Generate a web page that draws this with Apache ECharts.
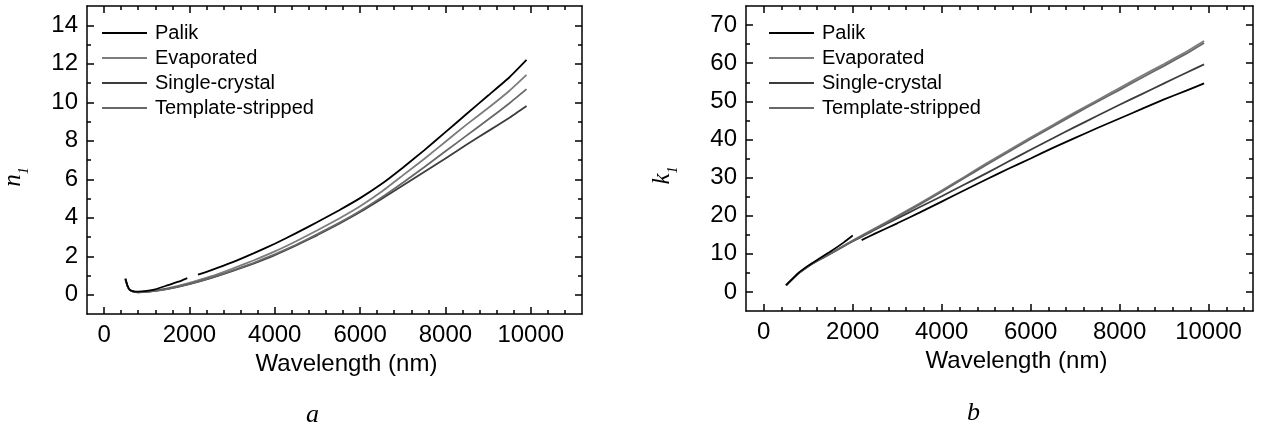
<!DOCTYPE html>
<html>
<head>
<meta charset="utf-8">
<script src="https://cdn.jsdelivr.net/npm/echarts@6/dist/echarts.min.js"></script>
<style>
  html, body { margin: 0; padding: 0; background: #fff; }
  #chart { width: 1264px; height: 432px; }
</style>
</head>
<body>
<div id="chart"></div>
<script>
// ---- data ----
const seriesNames = ['Palik', 'Evaporated', 'Single-crystal', 'Template-stripped'];

// wavelength grid (nm) shared by the three measured films
const wavelengths = [500, 550, 600, 700, 800, 1000, 1200, 1500, 2000, 2500, 3000, 3500, 4000,
  4500, 5000, 5500, 6000, 6500, 7000, 7500, 8000, 8500, 9000, 9500, 9900];

// Palik tabulation comes in two pieces with a gap near 2 µm
const palikWavelengthsN = [500, 550, 600, 700, 800, 1000, 1200, 1500, 1800, 1950, 2050, 2200, 2500,
  3000, 3500, 4000, 4500, 5000, 5500, 6000, 6500, 7000, 7500, 8000, 8500, 9000, 9500, 9900];
const palikN = [0.85, 0.47, 0.27, 0.17, 0.16, 0.2, 0.28, 0.5, 0.72, 0.86, null, 1.05, 1.27,
  1.68, 2.15, 2.65, 3.2, 3.78, 4.38, 5.02, 5.75, 6.6, 7.5, 8.45, 9.4, 10.35, 11.3, 12.2];

const evaporatedN = [0.82, 0.45, 0.26, 0.16, 0.14, 0.16, 0.22, 0.34, 0.62, 0.95, 1.35, 1.78, 2.25,
  2.78, 3.35, 3.95, 4.6, 5.35, 6.2, 7.05, 7.95, 8.85, 9.7, 10.6, 11.42];
const singleCrystalN = [0.8, 0.44, 0.25, 0.15, 0.13, 0.15, 0.2, 0.3, 0.55, 0.86, 1.22, 1.62, 2.06,
  2.56, 3.1, 3.68, 4.3, 4.98, 5.68, 6.38, 7.08, 7.8, 8.5, 9.2, 9.81];
const templateStrippedN = [0.8, 0.44, 0.25, 0.15, 0.13, 0.15, 0.2, 0.31, 0.57, 0.88, 1.25, 1.65, 2.1,
  2.6, 3.15, 3.72, 4.35, 5.05, 5.82, 6.62, 7.45, 8.28, 9.1, 9.95, 10.68];

const palikWavelengthsK = [500, 600, 800, 1000, 1200, 1500, 1800, 2000, 2100, 2200, 2500, 3000, 3500,
  4000, 4500, 5000, 5500, 6000, 6500, 7000, 7500, 8000, 8500, 9000, 9500, 9900];
const palikK = [1.8, 2.9, 5.2, 6.9, 8.4, 10.6, 13.0, 14.8, null, 13.6, 15.3, 18.0, 20.8,
  23.7, 26.6, 29.5, 32.3, 35.0, 37.8, 40.4, 43.0, 45.5, 48.0, 50.5, 52.8, 54.7];

const evaporatedK = [1.7, 2.3, 2.9, 4.1, 5.1, 6.8, 8.2, 10.1, 13.5, 16.7, 19.9, 23.2, 26.6,
  30.1, 33.7, 37.1, 40.5, 43.8, 47.1, 50.3, 53.5, 56.7, 59.8, 63.0, 65.8];
const singleCrystalK = [1.7, 2.3, 2.9, 4.0, 5.0, 6.7, 8.1, 10.0, 13.3, 16.3, 19.3, 22.2, 25.1,
  28.1, 31.1, 34.2, 37.3, 40.3, 43.3, 46.2, 49.1, 51.9, 54.7, 57.5, 59.7];
const templateStrippedK = [1.7, 2.3, 2.9, 4.1, 5.1, 6.8, 8.2, 10.1, 13.4, 16.5, 19.7, 22.9, 26.3,
  29.8, 33.3, 36.7, 40.1, 43.4, 46.7, 49.9, 53.0, 56.2, 59.3, 62.5, 65.3];

// tick labels
const wavelengthTicks = [0, 2000, 4000, 6000, 8000, 10000];
const nTicks = [0, 2, 4, 6, 8, 10, 12, 14];
const kTicks = [0, 10, 20, 30, 40, 50, 60, 70];

// ---- styling ----
const colors = { 'Palik': '#000000', 'Evaporated': '#7c7c7c', 'Single-crystal': '#3c3c3c', 'Template-stripped': '#686868' };
const SANS = '"Liberation Sans", Arial, sans-serif';
const SERIF = '"Liberation Serif", "Times New Roman", serif';
const axisStroke = { color: '#000', width: 1.5 };

function minorValues(min, max, step, majors) {
  const out = [];
  for (let v = min; v <= max + 1e-9; v += step) {
    if (!majors.some(m => Math.abs(m - v) < 1e-9) && v > min + 1e-9 && v < max - 1e-9) out.push(v);
  }
  return out;
}

// a frame side: one axis with long ticks (and optionally labels), one with short minor ticks
function frameAxes(grid, position, min, max, majors, minors, extra) {
  const base = { gridIndex: grid, type: 'value', position, min, max, splitLine: { show: false } };
  const major = Object.assign({}, base, {
    axisLine: { show: true, onZero: false, lineStyle: axisStroke },
    axisTick: { show: true, inside: true, length: 7, customValues: majors, lineStyle: axisStroke },
    axisLabel: { show: false }
  }, extra || {});
  const minor = Object.assign({}, base, {
    axisLine: { show: false, onZero: false },
    axisTick: { show: true, inside: true, length: 4, customValues: minors, lineStyle: axisStroke },
    axisLabel: { show: false }
  });
  return [major, minor];
}

const labelStyle = (ticks) => ({
  show: true, customValues: ticks, margin: 9, fontSize: 24, color: '#000', fontFamily: SANS,
  formatter: (v) => String(v)
});

function gridAxes(grid, xMin, xMax, yMin, yMax, yTicks, yMinorStep, yName, xNameShift, yNameGap) {
  const xMinors = minorValues(xMin, xMax, 400, wavelengthTicks);
  const yMinors = minorValues(yMin, yMax, yMinorStep, yTicks);
  const xs = [
    ...frameAxes(grid, 'bottom', xMin, xMax, wavelengthTicks, xMinors, {
      axisLabel: labelStyle(wavelengthTicks),
      name: 'Wavelength (nm)', nameLocation: 'middle', nameGap: 36,
      nameTextStyle: { fontSize: 24, color: '#000', fontFamily: SANS, padding: [0, 0, 0, xNameShift] }
    }),
    ...frameAxes(grid, 'top', xMin, xMax, wavelengthTicks, xMinors)
  ];
  const ys = [
    ...frameAxes(grid, 'left', yMin, yMax, yTicks, yMinors, {
      axisLabel: labelStyle(yTicks),
      name: '{i|' + yName + '}{s|1}', nameLocation: 'middle', nameGap: yNameGap,
      nameTextStyle: {
        padding: [0, 34, 0, 0],
        rich: {
          i: { fontSize: 25, fontStyle: 'italic', fontFamily: SERIF, color: '#000', lineHeight: 30, verticalAlign: 'top' },
          s: { fontSize: 14, fontStyle: 'italic', fontFamily: SERIF, color: '#000', lineHeight: 14, verticalAlign: 'bottom' }
        }
      }
    }),
    ...frameAxes(grid, 'right', yMin, yMax, yTicks, yMinors)
  ];
  return { xs, ys };
}

const leftAxes = gridAxes(0, -400, 11200, -1, 15, nTicks, 1, 'n', 24, 56);
const rightAxes = gridAxes(1, -400, 11000, -5, 75, kTicks, 5, 'k', 34, 66);

const xAxis = [...leftAxes.xs, ...rightAxes.xs];   // grid 0: indices 0-3, grid 1: 4-7
const yAxis = [...leftAxes.ys, ...rightAxes.ys];

const pairs = (xs, ys) => xs.map((x, i) => [x, ys[i] === null ? '-' : ys[i]]);

function line(name, xs, ys, axisIdx) {
  return {
    name, type: 'line', xAxisIndex: axisIdx, yAxisIndex: axisIdx,
    data: pairs(xs, ys), symbol: 'none', smooth: 0.15, connectNulls: false,
    lineStyle: { color: colors[name], width: 1.8 }, itemStyle: { color: colors[name] },
    z: name === 'Palik' ? 3 : 2, silent: true
  };
}

const series = [
  line('Palik', palikWavelengthsN, palikN, 0),
  line('Evaporated', wavelengths, evaporatedN, 0),
  line('Single-crystal', wavelengths, singleCrystalN, 0),
  line('Template-stripped', wavelengths, templateStrippedN, 0),
  line('Palik', palikWavelengthsK, palikK, 4),
  line('Evaporated', wavelengths, evaporatedK, 4),
  line('Single-crystal', wavelengths, singleCrystalK, 4),
  line('Template-stripped', wavelengths, templateStrippedK, 4)
];

const legendBase = {
  orient: 'vertical', itemWidth: 45, itemHeight: 14, itemGap: 5, padding: 0,
  selectedMode: false, data: seriesNames,
  itemStyle: { opacity: 0 },
  textStyle: { fontSize: 20, lineHeight: 20, color: '#000', fontFamily: SANS, padding: [0, 0, 0, 3] }
};

const option = {
  animation: false,
  backgroundColor: '#fff',
  grid: [
    { left: 84, top: 6, width: 498, height: 308 },
    { left: 746, top: 6, width: 507, height: 305 }
  ],
  legend: [
    Object.assign({ left: 101, top: 23 }, legendBase),
    Object.assign({ left: 768, top: 23 }, legendBase)
  ],
  graphic: [
    { type: 'text', left: 306, top: 402, style: { text: 'a', font: 'italic 26px ' + SERIF, fill: '#000' } },
    { type: 'text', left: 967, top: 400, style: { text: 'b', font: 'italic 26px ' + SERIF, fill: '#000' } }
  ],
  xAxis, yAxis, series
};

echarts.init(document.getElementById('chart')).setOption(option);
</script>
</body>
</html>
